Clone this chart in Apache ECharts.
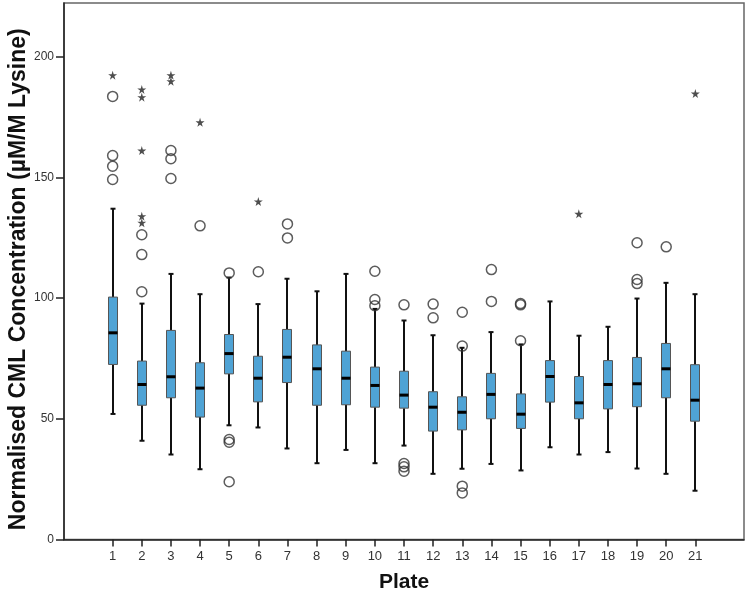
<!DOCTYPE html>
<html>
<head>
<meta charset="utf-8">
<script src="https://cdn.jsdelivr.net/npm/echarts@6/dist/echarts.min.js"></script>
<style>html,body{margin:0;padding:0;background:#fff;}#chart{width:750px;height:595px;}</style>
</head>
<body>
<div id="chart"></div>
<script>
// ---- Data ----
const plates = [1,2,3,4,5,6,7,8,9,10,11,12,13,14,15,16,17,18,19,20,21];
const whiskerLow  = [52.0,40.9,35.2,29.1,47.3,46.4,37.7,31.6,37.1,31.6,38.9,27.2,29.3,31.3,28.6,38.2,35.2,36.2,29.4,27.2,20.2];
const q1          = [72.5,55.6,58.7,50.7,68.6,57.0,65.0,55.6,55.8,54.8,54.4,44.9,45.4,50.0,46.0,56.9,50.0,54.1,55.0,58.7,49.0];
const median      = [85.6,64.2,67.4,62.7,77.0,66.8,75.5,70.7,66.8,63.8,59.8,54.8,52.7,60.1,51.9,67.5,56.6,64.2,64.5,70.7,57.7];
const q3          = [100.4,73.9,86.6,73.2,84.9,75.9,87.0,80.6,78.0,71.4,69.7,61.2,59.1,68.8,60.3,74.1,67.5,74.1,75.4,81.2,72.4];
const whiskerHigh = [137.0,97.7,110.0,101.6,108.5,97.5,108.0,102.8,110.0,95.5,90.7,84.6,79.4,85.9,80.8,98.6,84.4,88.1,99.8,106.3,101.6];

const outlierCircles = [
  [1,183.5],[1,159.0],[1,154.6],[1,149.1],
  [2,126.2],[2,118.0],[2,102.6],
  [3,161.1],[3,157.7],[3,149.5],
  [4,129.9],
  [5,110.4],[5,41.4],[5,40.3],[5,23.9],
  [6,110.9],
  [7,130.7],[7,124.9],
  [10,111.1],[10,99.4],[10,96.8],
  [11,97.2],[11,31.5],[11,30.1],[11,28.3],
  [12,97.5],[12,91.8],
  [13,94.1],[13,80.1],[13,22.1],[13,19.3],
  [14,111.8],[14,98.6],
  [15,97.7],[15,97.2],[15,82.3],
  [19,122.9],[19,107.7],[19,106.0],
  [20,121.2]
];
const outlierStars = [
  [1,192.3],
  [2,186.4],[2,183.2],[2,161.1],[2,133.9],[2,131.2],
  [3,192.3],[3,189.8],
  [4,172.8],
  [6,140.0],
  [17,134.9],
  [21,184.7]
];
const yTicks = [0,50,100,150,200];

// ---- Chart ----
const boxData = plates.map((p,i)=>[p, whiskerLow[i], q1[i], median[i], q3[i], whiskerHigh[i]]);
const starPath = 'path://M50,0 L61,35 L98,35 L68,57 L79,91 L50,70 L21,91 L32,57 L2,35 L39,35 Z';

const chart = echarts.init(document.getElementById('chart'), null, {renderer:'canvas'});
chart.setOption({
  animation: false,
  backgroundColor: '#ffffff',
  grid: {left: 64, right: 6, top: 3, bottom: 55.5, outerBoundsMode: 'none', containLabel: false, show: true, borderColor: '#666', borderWidth: 1.5, backgroundColor: 'transparent'},
  xAxis: {
    type: 'value', min: -0.67, max: 22.67,
    name: 'Plate', nameLocation: 'middle', nameGap: 32, nameMoveOverlap: false,
    nameTextStyle: {fontFamily: 'Liberation Sans', fontWeight: 'bold', fontSize: 21, color: '#111'},
    axisLine: {show: true, onZero: false, lineStyle: {color: '#222', width: 1.5}},
    axisTick: {show: true, length: 7, customValues: plates, lineStyle: {color: '#222', width: 1.5}},
    axisLabel: {customValues: plates, margin: 10, fontFamily: 'Liberation Sans', fontSize: 13, color: '#333'},
    splitLine: {show: false}
  },
  yAxis: {
    type: 'value', min: 0, max: 222.2,
    name: 'Normalised CML Concentration (\u00b5M/M Lysine)', nameLocation: 'middle', nameGap: 34, nameMoveOverlap: false,
    nameTextStyle: {fontFamily: 'Liberation Sans', fontWeight: 'bold', fontSize: 23, color: '#111', padding: [0, 16, 0, 0]},
    axisLine: {show: true, onZero: false, lineStyle: {color: '#222', width: 1.5}},
    axisTick: {show: true, length: 8, customValues: yTicks, lineStyle: {color: '#222', width: 1.5}},
    axisLabel: {customValues: yTicks, margin: 10, fontFamily: 'Liberation Sans', fontSize: 12, color: '#333'},
    splitLine: {show: false}
  },
  series: [
    {
      type: 'custom',
      data: boxData,
      encode: {x: 0, y: [1,2,3,4,5]},
      renderItem: function (params, api) {
        const x = api.value(0);
        const lo = api.coord([x, api.value(1)]);
        const b1 = api.coord([x, api.value(2)]);
        const md = api.coord([x, api.value(3)]);
        const b3 = api.coord([x, api.value(4)]);
        const hi = api.coord([x, api.value(5)]);
        const cx = Math.round(lo[0]);
        const hw = 4.5, cap = 2.5;
        const ws = {stroke: '#111', lineWidth: 2};
        return {
          type: 'group',
          children: [
            {type: 'line', shape: {x1: cx, y1: hi[1], x2: cx, y2: b3[1]}, style: ws},
            {type: 'line', shape: {x1: cx, y1: b1[1], x2: cx, y2: lo[1]}, style: ws},
            {type: 'line', shape: {x1: cx - cap, y1: hi[1], x2: cx + cap, y2: hi[1]}, style: ws},
            {type: 'line', shape: {x1: cx - cap, y1: lo[1], x2: cx + cap, y2: lo[1]}, style: ws},
            {type: 'rect', shape: {x: cx - hw, y: b3[1], width: hw * 2, height: b1[1] - b3[1]}, style: {fill: '#4fa3d5', stroke: '#555', lineWidth: 1}},
            {type: 'line', shape: {x1: cx - hw, y1: md[1], x2: cx + hw, y2: md[1]}, style: {stroke: '#000', lineWidth: 3}}
          ]
        };
      },
      z: 2
    },
    {
      type: 'scatter',
      data: outlierCircles,
      symbol: 'circle', symbolSize: 10,
      itemStyle: {color: 'rgba(255,255,255,0)', borderColor: '#333', borderWidth: 1.5},
      z: 3
    },
    {
      type: 'scatter',
      data: outlierStars,
      symbol: starPath, symbolSize: 9,
      itemStyle: {color: '#222'},
      z: 3
    }
  ]
});
</script>
</body>
</html>
